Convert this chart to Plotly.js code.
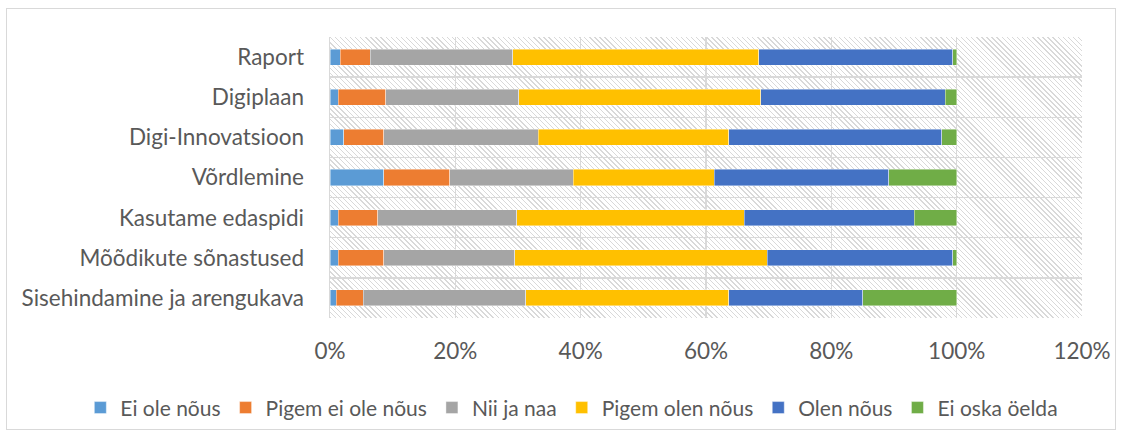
<!DOCTYPE html>
<html>
<head>
<meta charset="utf-8">
<script src="https://cdn.plot.ly/plotly-3.0.1.min.js"></script>
<style>
html,body{margin:0;padding:0;background:#fff;}
#wrap{position:relative;width:1124px;height:435px;background:#fff;}
#hatch{position:absolute;left:330px;top:37px;width:752px;height:281px;
  background:repeating-linear-gradient(45deg,#d9d9d9 0px,#d9d9d9 1px,#ffffff 1px,#ffffff 3.6px);}
#chart{position:absolute;left:0;top:0;width:1124px;height:435px;}
#frame{position:absolute;left:6px;top:8px;width:1108px;height:420px;border:1px solid #d9d9d9;pointer-events:none;}
</style>
</head>
<body>
<div id="wrap"><div id="hatch"></div><div id="chart"></div><div id="frame"></div></div>
<script>
const categories = ["Raport","Digiplaan","Digi-Innovatsioon","Võrdlemine","Kasutame edaspidi","Mõõdikute sõnastused","Sisehindamine ja arengukava"];
const seriesNames = ["Ei ole nõus","Pigem ei ole nõus","Nii ja naa","Pigem olen nõus","Olen nõus","Ei oska öelda"];
const eiOleNous      = [1.6, 1.3, 2.2, 8.6, 1.3, 1.3, 1.0];
const pigemEiOleNous = [4.8, 7.6, 6.4, 10.5, 6.3, 7.3, 4.3];
const niiJaNaa       = [22.8, 21.2, 24.6, 19.7, 22.2, 20.9, 25.9];
const pigemOlenNous  = [39.2, 38.6, 30.4, 22.5, 36.3, 40.3, 32.4];
const olenNous       = [31.0, 29.5, 34.0, 27.9, 27.1, 29.6, 21.4];
const eiOskaOelda    = [0.6, 1.8, 2.4, 10.8, 6.8, 0.6, 15.0];
const xTicks = [0, 20, 40, 60, 80, 100, 120];
const xTickText = ["0%","20%","40%","60%","80%","100%","120%"];

const seriesValues = [eiOleNous, pigemEiOleNous, niiJaNaa, pigemOlenNous, olenNous, eiOskaOelda];
const colors = ["#5B9BD5","#ED7D31","#A5A5A5","#FFC000","#4472C4","#70AD47"];

const traces = seriesValues.map((vals, i) => ({
  type: "bar",
  orientation: "h",
  name: seriesNames[i],
  y: categories,
  x: vals,
  marker: {color: colors[i], line: {color: "rgba(255,255,255,0.6)", width: 0.7}},
  hoverinfo: "name+x"
}));

const fam = "Lato, 'Liberation Sans', sans-serif";
const tickFont = {family: fam, size: 22.5, color: "#595959"};

const layout = {
  width: 1124, height: 435,
  margin: {l: 330, r: 42, t: 37, b: 117, autoexpand: false},
  paper_bgcolor: "rgba(0,0,0,0)",
  plot_bgcolor: "rgba(0,0,0,0)",
  barmode: "stack",
  bargap: 0.6,
  font: tickFont,
  showlegend: true,
  legend: {
    orientation: "h", xref: "paper", x: -0.332, xanchor: "left",
    y: -0.32, yanchor: "middle",
    font: {family: fam, size: 21, color: "#595959"},
    traceorder: "normal", itemclick: false, itemdoubleclick: false,
    bgcolor: "rgba(0,0,0,0)"
  },
  xaxis: {
    range: [0, 120], tickvals: xTicks, ticktext: xTickText,
    showgrid: true, gridcolor: "#d9d9d9", gridwidth: 1.5,
    zeroline: false, showline: false, ticks: "",
    ticklabelstandoff: 17, tickfont: tickFont, fixedrange: true
  },
  yaxis: {
    type: "category", categoryorder: "array", categoryarray: categories,
    autorange: "reversed", tickson: "boundaries",
    showgrid: true, gridcolor: "#d9d9d9", gridwidth: 1.5,
    showline: true, linecolor: "#d9d9d9", linewidth: 1.5,
    ticks: "", ticklabelstandoff: 20, tickfont: tickFont, fixedrange: true
  }
};

Plotly.newPlot("chart", traces, layout, {displayModeBar: false, staticPlot: true});
</script>
</body>
</html>
